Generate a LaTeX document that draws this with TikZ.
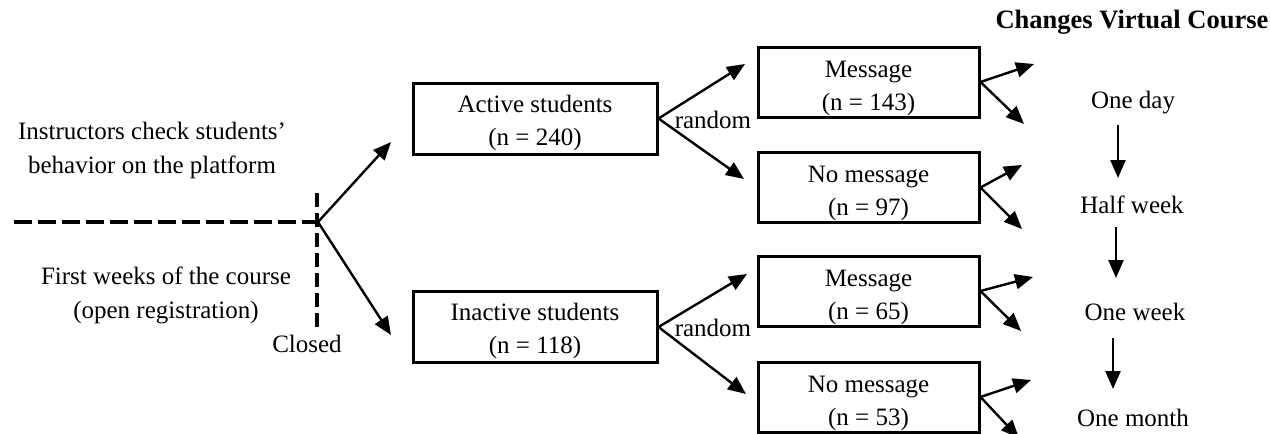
\documentclass[tikz,border=0pt]{standalone}
\usepackage{fontspec}
\setmainfont{Liberation Serif}
\usetikzlibrary{arrows.meta}
\begin{document}
\begin{tikzpicture}[x=1pt,y=-1pt,
  txt/.style={font=\fontsize{25}{34}\selectfont, align=center, inner sep=0pt},
  btxt/.style={font=\fontsize{25}{33}\selectfont, align=center, inner sep=0pt},
  boxA/.style={draw, line width=3pt, minimum width=244pt, minimum height=71pt, inner sep=0pt},
  boxM/.style={draw, line width=3pt, minimum width=221pt, minimum height=70pt, inner sep=0pt},
  arr/.style={line width=2.4pt, -{Triangle[length=18pt,width=15pt]}},
  dsh/.style={line width=4pt, dash pattern=on 18pt off 6pt}]
\useasboundingbox (0,0) rectangle (1270,434);
% title
\node[txt, font=\fontsize{26.5}{34}\selectfont\bfseries] (title) at (1132,22) {Changes Virtual Course};
% left texts
\node[txt] (instr) at (152,150) {Instructors check students'\\behavior on the platform};
\node[txt] (first) at (166,295) {First weeks of the course\\(open registration)};
\node[txt] (closed) at (307,344) {Closed};
% dashed lines
\coordinate (L) at (14,222);
\coordinate (J) at (318,222);
\coordinate (VT) at (317,193);
\coordinate (VB) at (317,330);
\draw[dsh] (L) -- (J);
\draw[line width=4pt, dash pattern=on 14pt off 6pt] (VT) -- (VB);
% boxes
\node[boxA] (act) at (535,118.5) {};
\node[boxA] (inact) at (535,327) {};
\node[boxM] (m1) at (868.5,82) {};
\node[boxM] (m2) at (868.5,187.5) {};
\node[boxM] (m3) at (868.5,291) {};
\node[boxM] (m4) at (868.5,397) {};
\node[btxt] (tact) at ([yshift=-4pt]act.center) {Active students\\(n = 240)};
\node[btxt] (tinact) at ([yshift=-4pt]inact.center) {Inactive students\\(n = 118)};
\node[btxt] (tm1) at ([yshift=-6pt]m1.center) {Message\\(n = 143)};
\node[btxt] (tm2) at ([yshift=-6pt]m2.center) {No message\\(n = 97)};
\node[btxt] (tm3) at ([yshift=-6pt]m3.center) {Message\\(n = 65)};
\node[btxt] (tm4) at ([yshift=-6pt]m4.center) {No message\\(n = 53)};
% arrows from junction
\coordinate (ta) at (391,142);
\coordinate (ti) at (391,335);
\draw[arr] (J) -- (ta);
\draw[arr] (J) -- (ti);
% random
\node[txt] (r1) at (713,120) {random};
\node[txt] (r2) at (713,328) {random};
\coordinate (a1) at (745,64);
\coordinate (a2) at (744,179);
\coordinate (b1) at (747,274);
\coordinate (b2) at (746,394);
\draw[arr] (act.east) -- (a1);
\draw[arr] (act.east) -- (a2);
\draw[arr] (inact.east) -- (b1);
\draw[arr] (inact.east) -- (b2);
% right arrows
\coordinate (e1) at (1034,64);
\coordinate (f1) at (1024,124);
\coordinate (e2) at (1022,165);
\coordinate (f2) at (1022,229);
\coordinate (e3) at (1033,277);
\coordinate (f3) at (1021,331);
\coordinate (e4) at (1031,380);
\coordinate (f4) at (1019,438);
\draw[arr] (m1.east) -- (e1);
\draw[arr] (m1.east) -- (f1);
\draw[arr] (m2.east) -- (e2);
\draw[arr] (m2.east) -- (f2);
\draw[arr] (m3.east) -- (e3);
\draw[arr] (m3.east) -- (f3);
\draw[arr] (m4.east) -- (e4);
\draw[arr] (m4.east) -- (f4);
% timeline
\node[txt] (d1) at (1133,103) {One day};
\node[txt] (d2) at (1132,205) {Half week};
\node[txt] (d3) at (1135,312) {One week};
\node[txt] (d4) at (1133,418) {One month};
\coordinate (s1) at (1118,125); \coordinate (t1) at (1118,178);
\coordinate (s2) at (1116,227); \coordinate (t2) at (1116,278);
\coordinate (s3) at (1113,338); \coordinate (t3) at (1113,389);
\draw[arr] (s1) -- (t1);
\draw[arr] (s2) -- (t2);
\draw[arr] (s3) -- (t3);
\end{tikzpicture}
\end{document}
